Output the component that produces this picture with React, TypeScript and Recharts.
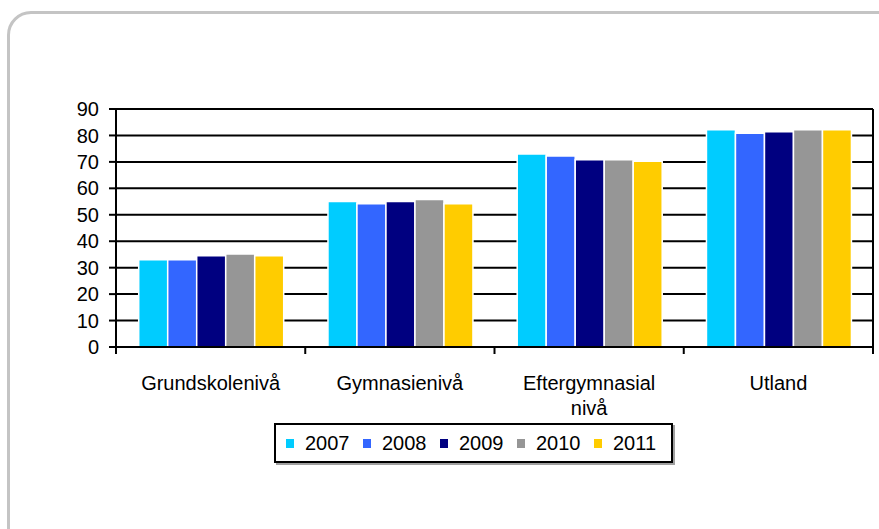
import React from "react";
import { BarChart, Bar, XAxis, YAxis, CartesianGrid, Legend } from "recharts";

const categories = ["Grundskolenivå", "Gymnasienivå", "Eftergymnasial nivå", "Utland"];
const years = ["2007", "2008", "2009", "2010", "2011"];
const values2007 = [33.0, 55.0, 73.0, 82.2];
const values2008 = [33.0, 54.2, 72.2, 80.8];
const values2009 = [34.5, 55.0, 70.8, 81.4];
const values2010 = [35.2, 55.8, 70.8, 82.2];
const values2011 = [34.5, 54.2, 70.2, 82.2];
const yTicks = [0, 10, 20, 30, 40, 50, 60, 70, 80, 90];
const colors = ["#00CCFF", "#3366FF", "#000080", "#969696", "#FFCC00"];

const seriesValues = [values2007, values2008, values2009, values2010, values2011];
const data = categories.map((name, i) => {
  const row: any = { name };
  years.forEach((yr, k) => {
    row[yr] = seriesValues[k][i];
  });
  return row;
});

const FONT = '"Liberation Sans", Arial, sans-serif';

// bryter långa etiketter vid sista mellanslaget
const wrapLabel = (s: string) => {
  if (s.length <= 15 || s.indexOf(" ") < 0) return [s];
  const p = s.lastIndexOf(" ");
  return [s.slice(0, p), s.slice(p + 1)];
};

const CategoryTick = (props: any) => {
  const { x, y, payload } = props;
  const half = payload && payload.offset ? payload.offset : 0;
  const lines = wrapLabel(String(payload.value));
  const isLast = payload.value === categories[categories.length - 1];
  return (
    <g>
      <line x1={x - half} y1={y} x2={x - half} y2={y + 7} stroke="#000" strokeWidth={2} />
      {isLast && (
        <path
          d={`M${x + half},${y + 7}V${y - 238}`}
          stroke="#000"
          strokeWidth={2}
          fill="none"
        />
      )}
      <text x={x} y={y + 43} textAnchor="middle" fill="#000" fontSize={20} fontFamily={FONT}>
        {lines.map((l, i) => (
          <tspan key={i} x={x} dy={i === 0 ? 0 : 25}>
            {l}
          </tspan>
        ))}
      </text>
    </g>
  );
};

const LegendBox = () => (
  <div
    style={{
      boxSizing: "border-box",
      width: 399,
      height: 40,
      border: "2px solid #000",
      boxShadow: "2px 2px 0 #a0a0a0",
      background: "#fff",
      display: "flex",
      alignItems: "center",
      paddingLeft: 10,
      fontFamily: FONT,
      fontSize: 20,
      color: "#000",
    }}
  >
    {years.map((yr, i) => (
      <div key={yr} style={{ display: "flex", alignItems: "center", width: 78 }}>
        <span style={{ display: "inline-block", width: 8, height: 9, background: colors[i], marginRight: 11 }} />
        <span>{yr}</span>
      </div>
    ))}
  </div>
);

export default function App() {
  return (
    <div
      style={{
        position: "fixed",
        left: 0,
        top: 0,
        width: 879,
        height: 529,
        overflow: "hidden",
        background: "#fff",
      }}
    >
      <div
        style={{
          position: "absolute",
          left: 7,
          top: 11,
          width: 920,
          height: 560,
          boxSizing: "border-box",
          border: "3px solid #c4c4c4",
          borderRadius: 24,
        }}
      />
      <div style={{ position: "absolute", left: 0, top: 0 }}>
        <BarChart
          width={879}
          height={529}
          data={data}
          margin={{ top: 109, right: 6, left: 0, bottom: 122 }}
          barCategoryGap="12%"
          barGap={0}
        >
          <CartesianGrid vertical={false} stroke="#000" strokeWidth={2} />
          <XAxis
            dataKey="name"
            height={60}
            axisLine={{ stroke: "#000", strokeWidth: 2 }}
            tickLine={false}
            tickSize={0}
            tickMargin={0}
            interval={0}
            tick={<CategoryTick />}
          />
          <YAxis
            width={116}
            domain={[0, 90]}
            ticks={yTicks}
            interval={0}
            axisLine={{ stroke: "#000", strokeWidth: 2 }}
            tickLine={{ stroke: "#000", strokeWidth: 2 }}
            tickSize={7}
            tickMargin={10}
            tick={{ fill: "#000", fontSize: 20, fontFamily: FONT }}
          />
          <Legend
            layout="horizontal"
            verticalAlign="middle"
            align="center"
            width={399}
            wrapperStyle={{ top: 423, left: 274, width: 399 }}
            content={() => <LegendBox />}
          />
          {years.map((yr, i) => (
            <Bar
              key={yr}
              dataKey={yr}
              fill={colors[i]}
              stroke="#fff"
              strokeWidth={1.5}
              isAnimationActive={false}
            />
          ))}
        </BarChart>
      </div>
    </div>
  );
}
